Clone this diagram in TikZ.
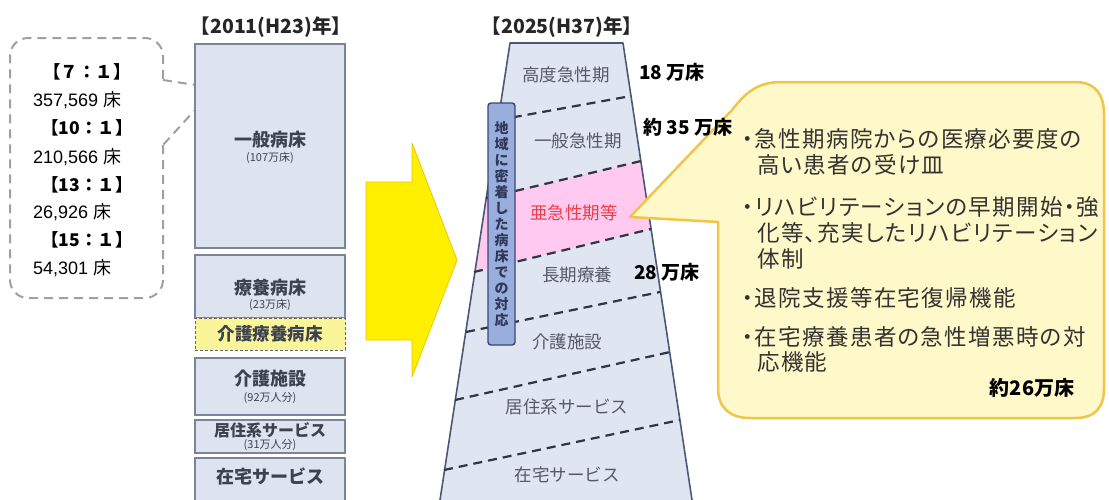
\documentclass[tikz,border=0pt]{standalone}
\usepackage{fontspec}
\setmainfont{Noto Sans CJK JP}
\newfontfamily\lat{Liberation Sans}
\newfontfamily\bodyfont[RawFeature=+palt, LetterSpace=6]{Noto Sans CJK JP}
\definecolor{boxfill}{HTML}{DDE3EF}
\definecolor{boxline}{HTML}{7C8499}
\definecolor{trapfill}{HTML}{DFE6F2}
\definecolor{trapline}{HTML}{4B5878}
\definecolor{pinkfill}{HTML}{FFC9F0}
\definecolor{barfill}{HTML}{9AAEDD}
\definecolor{barline}{HTML}{3A4670}
\definecolor{arrowyellow}{HTML}{FFF000}
\definecolor{arrowedge}{HTML}{F2C200}
\definecolor{calloutfill}{HTML}{FFF8C8}
\definecolor{calloutline}{HTML}{EFC54A}
\definecolor{kaigo}{HTML}{FBF59A}
\definecolor{boxtext}{HTML}{3C4250}
\definecolor{traptext}{HTML}{555A66}
\definecolor{redtext}{HTML}{E8404A}
\definecolor{dashgray}{HTML}{A0A0A0}
\definecolor{dashline}{HTML}{2F3545}
\definecolor{bodytext}{HTML}{333333}
\tikzset{
  oldbox/.style={draw=boxline, fill=boxfill, line width=1.2pt, minimum width=150pt, inner sep=0pt},
  boxlabel/.style={text=boxtext, font=\fontsize{18}{20}\selectfont\bfseries, inner sep=0pt},
  boxsub/.style={text=boxtext, font=\fontsize{11}{12}\selectfont, inner sep=0pt},
  traplabel/.style={text=traptext, font=\fontsize{17.5}{20}\selectfont, inner sep=0pt},
  divider/.style={draw=dashline, line width=2.2pt, dash pattern=on 9pt off 6pt},
  ratio/.style={font=\fontsize{17.5}{19}\selectfont\bfseries, inner sep=0pt},
  beds/.style={font=\fontsize{18}{19}\selectfont, inner sep=0pt, anchor=west},
  count/.style={font=\fontsize{19}{21}\selectfont\bfseries, inner sep=0pt},
  bullet/.style={text=bodytext, font=\bodyfont\fontsize{22.5}{24}\selectfont, inner sep=0pt, anchor=west},
  titletext/.style={font=\fontsize{19.5}{21}\selectfont\bfseries, text=black!85, inner sep=0pt}
}
\begin{document}
\begin{tikzpicture}[x=1pt,y=-1pt]
\useasboundingbox (0,0) rectangle (1109,499);

% ---------- left dashed callout ----------
\draw[dashgray, line width=2pt, dash pattern=on 9pt off 6pt, rounded corners=18pt]
  (163,145) -- (163,298) -- (10,298) -- (10,38) -- (163,38) -- (163,80);
\draw[dashgray, line width=2pt, dash pattern=on 9pt off 6pt]
  (163,80) -- (215,88) -- (163,145);
\node[ratio] (r1) at (87,72) {【７：１】};
\node[beds] (n1) at (33,100) {\lat 357,569 \rmfamily 床};
\node[ratio] (r2) at (87,128) {【10：１】};
\node[beds] (n2) at (33,157) {\lat 210,566 \rmfamily 床};
\node[ratio] (r3) at (87,185) {【13：１】};
\node[beds] (n3) at (33,212) {\lat 26,926 \rmfamily 床};
\node[ratio] (r4) at (87,240) {【15：１】};
\node[beds] (n4) at (33,268) {\lat 54,301 \rmfamily 床};

% ---------- 2011 column ----------
\node[titletext] (t2011) at (271,27) {【2011(H23)年】};
\node[oldbox, minimum height=204pt] (b1) at (270,146) {};
\node[boxlabel] (b1t) at (270,140) {一般病床};
\node[boxsub] (b1s) at (270,158) {(107万床)};
\node[oldbox, minimum height=63pt] (b2) at (270,286.5) {};
\node[boxlabel] (b2t) at (270,288) {療養病床};
\node[boxsub] (b2s) at (270,305) {(23万床)};
\node[draw=boxtext!80, fill=kaigo, line width=1pt, dash pattern=on 3pt off 2pt, minimum width=150pt, minimum height=32pt, inner sep=0pt] (b3) at (270,334) {};
\node[boxlabel, font=\fontsize{17.5}{20}\selectfont\bfseries] (b3t) at (270,334) {介護療養病床};
\node[oldbox, minimum height=57pt] (b4) at (270,386.5) {};
\node[boxlabel] (b4t) at (270,379) {介護施設};
\node[boxsub] (b4s) at (270,398) {(92万人分)};
\node[oldbox, minimum height=33pt] (b5) at (270,436.5) {};
\node[boxlabel, font=\fontsize{16}{18}\selectfont\bfseries] (b5t) at (270,430) {居住系サービス};
\node[boxsub] (b5s) at (270,445) {(31万人分)};
\node[oldbox, minimum height=52pt] (b6) at (270,484) {};
\node[boxlabel] (b6t) at (270,476) {在宅サービス};

% ---------- yellow arrow ----------
\fill[arrowyellow, draw=arrowedge, line width=0.8pt, line join=round]
  (366,182) -- (412,182) -- (412,143) -- (457,260) -- (412,377) -- (412,340) -- (366,340) -- cycle;

% ---------- 2025 trapezoid ----------
\node[titletext] (t2025) at (562,27) {【2025(H37)年】};
\fill[trapfill] (510,43) -- (623,43) -- (692,500) -- (440,500) -- cycle;
\fill[pinkfill] (486,198) -- (641,161) -- (651,229) -- (474,272) -- cycle;
\draw[trapline, line width=1.6pt, line join=round] (440,500) -- (510,43) -- (623,43) -- (692,500);
\draw[divider] (498,120) -- (631,96);
\draw[divider] (486,198) -- (641,161);
\draw[divider] (474,272) -- (651,229);
\draw[divider] (466,332) -- (660,292);
\draw[divider] (455,400) -- (670,352);
\draw[divider] (444,470) -- (680,420);
\node[traplabel] (k1) at (566,75) {高度急性期};
\node[traplabel] (k2) at (578,141) {一般急性期};
\node[traplabel, text=redtext] (k3) at (574,213) {亜急性期等};
\node[traplabel] (k4) at (577,275) {長期療養};
\node[traplabel] (k5) at (567,342) {介護施設};
\node[traplabel] (k6) at (567,407) {居住系サービス};
\node[traplabel] (k7) at (567,475) {在宅サービス};

% vertical bar
\node[draw=barline, fill=barfill, line width=1.4pt, rounded corners=3pt, minimum width=27pt, minimum height=242pt, inner sep=0pt] (bar) at (501.5,224) {};
\node[align=center, text=barline!80!black, font=\fontsize{14}{16}\selectfont\bfseries, inner sep=0pt] (bartext) at (501.5,224)
  {地\\域\\に\\密\\着\\し\\た\\病\\床\\で\\の\\対\\応};

% ---------- right callout ----------
\draw[fill=calloutfill, draw=calloutline, line width=2.5pt, line join=round]
  (630,217) -- (732,110) .. controls (746,92) and (758,82) .. (782,82)
  -- (1075,82) .. controls (1095,82) and (1104,94) .. (1104,114)
  -- (1104,388) .. controls (1104,408) and (1095,418) .. (1075,418)
  -- (750,418) .. controls (730,418) and (718,408) .. (718,388)
  -- (718,222) -- cycle;
\node[bullet] (p1a) at (742,139) {・急性期病院からの医療必要度の};
\node[bullet] (p1b) at (757,165) {高い患者の受け皿};
\node[bullet] (p2a) at (742,207) {・リハビリテーションの早期開始・強};
\node[bullet] (p2b) at (757,233) {化等、充実したリハビリテーション};
\node[bullet] (p2c) at (757,259) {体制};
\node[bullet] (p3a) at (742,298) {・退院支援等在宅復帰機能};
\node[bullet] (p4a) at (742,337) {・在宅療養患者の急性増悪時の対};
\node[bullet] (p4b) at (757,362) {応機能};
\node[count, font=\fontsize{20}{22}\selectfont\bfseries] (c26) at (1032,388) {約26万床};

% ---------- counts ----------
\node[count] (c18) at (672,72) {18 万床};
\node[count] (c35) at (688,127) {約 35 万床};
\node[count] (c28) at (667,272) {28 万床};
\end{tikzpicture}
\end{document}
